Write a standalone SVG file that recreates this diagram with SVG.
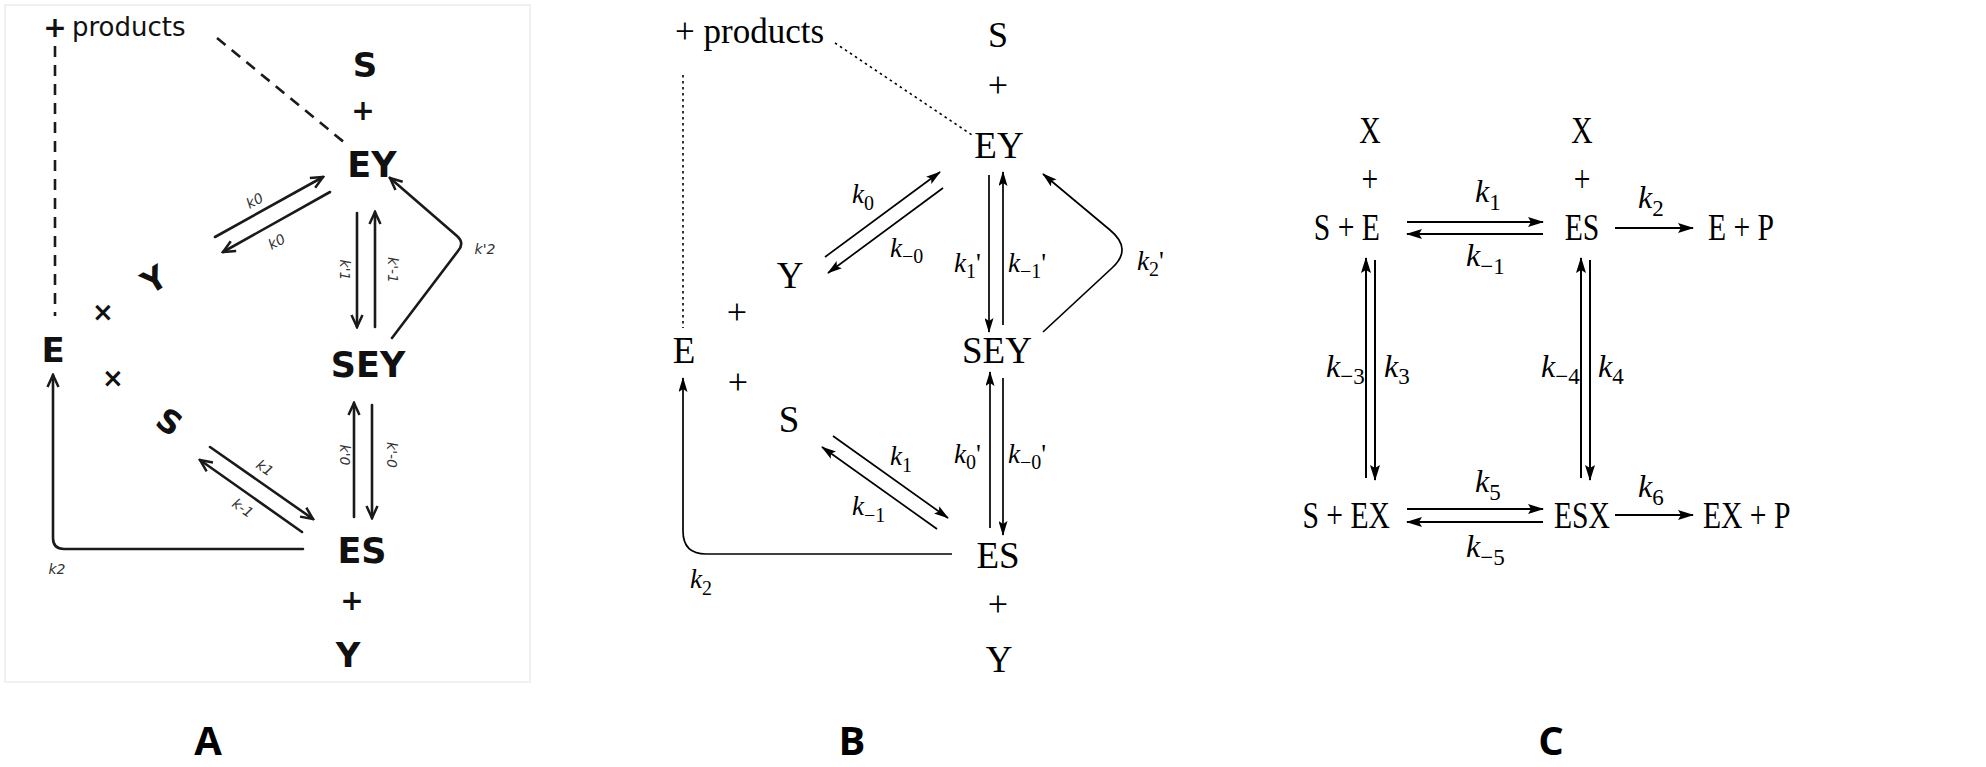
<svg xmlns="http://www.w3.org/2000/svg" width="1986" height="767" viewBox="0 0 1986 767">
<style>
.a{font-family:"DejaVu Sans",sans-serif;font-weight:bold;fill:#111}
.al{font-family:"DejaVu Sans",sans-serif;font-style:italic;font-size:14px;fill:#333}
.s{font-family:"Liberation Serif","Times New Roman",serif;fill:#000}
.i{font-style:italic}
.lA{stroke:#1a1a1a;stroke-width:2.6;fill:none;stroke-linecap:round}
.lB{stroke:#000;stroke-width:1.7;fill:none}
.lC{stroke:#000;stroke-width:2;fill:none}
.dot{stroke:#000;stroke-width:1.6;fill:none;stroke-dasharray:2.5 3.5}
.dash{stroke:#1a1a1a;stroke-width:2.6;fill:none;stroke-dasharray:11 8}
.pl{font-family:"Open Sans","Liberation Sans",sans-serif;font-weight:bold;font-size:40px;fill:#000}
</style>
<defs>
<marker id="ao" viewBox="0 0 16 14" refX="14" refY="7" markerWidth="16" markerHeight="14" markerUnits="userSpaceOnUse" orient="auto"><path d="M2,1.5 L14,7 L2,12.5" fill="none" stroke="#1a1a1a" stroke-width="2.5"/></marker>
<marker id="ab" viewBox="0 0 15 9" refX="14" refY="4.5" markerWidth="15" markerHeight="9" markerUnits="userSpaceOnUse" orient="auto"><path d="M0,0 L15,4.5 L0,9 L3,4.5 z" fill="#000"/></marker>
<marker id="ac" viewBox="0 0 16 10" refX="15" refY="5" markerWidth="16" markerHeight="10" markerUnits="userSpaceOnUse" orient="auto"><path d="M0,0 L16,5 L0,10 L3,5 z" fill="#000"/></marker>
</defs>
<rect width="1986" height="767" fill="#fff"/>

<!-- Panel A -->
<rect x="5" y="5" width="525" height="677" fill="none" stroke="#ececec" stroke-width="1.5"/>
<g id="A-connectors">
<path class="dash" d="M55 46 V316"/>
<path class="dash" d="M217 38 L345 143"/>
<path class="lA" d="M215 237 L323 177" marker-end="url(#ao)"/>
<path class="lA" d="M330 192 L223 252" marker-end="url(#ao)"/>
<path class="lA" d="M357 213 V327" marker-end="url(#ao)"/>
<path class="lA" d="M375 327 V212" marker-end="url(#ao)"/>
<path class="lA" d="M392 338 L458 251 Q465 243 457 236 L390 178" marker-end="url(#ao)"/>
<path class="lA" d="M210 447 L313 519" marker-end="url(#ao)"/>
<path class="lA" d="M302 532 L200 460" marker-end="url(#ao)"/>
<path class="lA" d="M354 517 V403" marker-end="url(#ao)"/>
<path class="lA" d="M372 405 V518" marker-end="url(#ao)"/>
<path class="lA" d="M303 549 H64 Q53 549 53 538 V375" marker-end="url(#ao)"/>
<text class="al" transform="translate(257,205) rotate(-29)" text-anchor="middle">k0</text>
<text class="al" transform="translate(279,246) rotate(-29)" text-anchor="middle">k0</text>
<text class="al" transform="translate(340,270) rotate(90)" text-anchor="middle" font-size="12">k'1</text>
<text class="al" transform="translate(388,270) rotate(90)" text-anchor="middle" font-size="12">k'-1</text>
<text class="al" transform="translate(340,455) rotate(90)" text-anchor="middle" font-size="12">k'0</text>
<text class="al" transform="translate(387,455) rotate(90)" text-anchor="middle" font-size="12">k'-0</text>
<text class="al" transform="translate(262,472) rotate(35)" text-anchor="middle">k1</text>
<text class="al" transform="translate(240,512) rotate(35)" text-anchor="middle">k-1</text>
<text class="al" x="485" y="254" text-anchor="middle" font-size="16">k'2</text>
<text class="al" x="57" y="574" text-anchor="middle">k2</text>
</g>
<g id="A-products"><text class="a" x="55" y="37" font-size="28" text-anchor="middle">+</text><text x="72" y="36" font-family="DejaVu Sans,sans-serif" font-size="26" fill="#111">products</text></g>
<g id="A-S-top"><text class="a" x="365" y="77" font-size="34" text-anchor="middle">S</text><text class="a" x="363" y="120" font-size="28" text-anchor="middle">+</text></g>
<g id="A-EY"><text class="a" x="372" y="177" font-size="35" text-anchor="middle">EY</text></g>
<g id="A-SEY"><text class="a" x="368" y="377" font-size="35" text-anchor="middle">SEY</text></g>
<g id="A-ES"><text class="a" x="362" y="563" font-size="35" text-anchor="middle">ES</text><text class="a" x="352" y="610" font-size="28" text-anchor="middle">+</text><text class="a" x="348" y="667" font-size="34" text-anchor="middle">Y</text></g>
<g id="A-E"><text class="a" x="53" y="362" font-size="34" text-anchor="middle">E</text><text class="a" x="103" y="321" font-size="26" text-anchor="middle">×</text><text class="a" x="113" y="387" font-size="26" text-anchor="middle">×</text></g>
<g id="A-Y"><text class="a" transform="translate(160,289) rotate(-32)" font-size="32" text-anchor="middle">Y</text></g>
<g id="A-S"><text class="a" transform="translate(163,431) rotate(35)" font-size="32" text-anchor="middle">S</text></g>
<text class="pl" x="208" y="755" text-anchor="middle">A</text>

<!-- Panel B -->
<g id="B-connectors">
<path class="dot" d="M835 43 L972 135"/>
<path class="dot" d="M683 75 V328"/>
<path class="lB" d="M825 257 L940 172" marker-end="url(#ab)"/>
<path class="lB" d="M943 188 L828 273" marker-end="url(#ab)"/>
<path class="lB" d="M989 175 V332" marker-end="url(#ab)"/>
<path class="lB" d="M1003 325 V172" marker-end="url(#ab)"/>
<path class="lB" d="M1043 332 L1112 268 Q1133 249 1110 230 L1043 174" marker-end="url(#ab)"/>
<path class="lB" d="M833 436 L948 518" marker-end="url(#ab)"/>
<path class="lB" d="M937 529 L822 447" marker-end="url(#ab)"/>
<path class="lB" d="M990 528 V372" marker-end="url(#ab)"/>
<path class="lB" d="M1003 378 V535" marker-end="url(#ab)"/>
<path class="lB" d="M952 554 H706 Q683 554 683 531 V378" marker-end="url(#ab)"/>
<g class="s" font-size="27">
<text x="852" y="203"><tspan class="i">k</tspan><tspan font-size="20" dy="7">0</tspan></text>
<text x="890" y="257"><tspan class="i">k</tspan><tspan font-size="20" dy="6">−0</tspan></text>
<text x="954" y="272"><tspan class="i">k</tspan><tspan font-size="20" dy="6">1</tspan><tspan dy="-6">'</tspan></text>
<text x="1008" y="272"><tspan class="i">k</tspan><tspan font-size="20" dy="6">−1</tspan><tspan dy="-6">'</tspan></text>
<text x="1137" y="270"><tspan class="i">k</tspan><tspan font-size="20" dy="6">2</tspan><tspan dy="-6">'</tspan></text>
<text x="890" y="465"><tspan class="i">k</tspan><tspan font-size="20" dy="7">1</tspan></text>
<text x="852" y="515"><tspan class="i">k</tspan><tspan font-size="20" dy="7">−1</tspan></text>
<text x="954" y="463"><tspan class="i">k</tspan><tspan font-size="20" dy="6">0</tspan><tspan dy="-6">'</tspan></text>
<text x="1008" y="463"><tspan class="i">k</tspan><tspan font-size="20" dy="6">−0</tspan><tspan dy="-6">'</tspan></text>
<text x="690" y="588"><tspan class="i">k</tspan><tspan font-size="20" dy="7">2</tspan></text>
</g>
</g>
<g id="B-products"><text class="s" x="675" y="43" font-size="35">+ products</text></g>
<g id="B-S-top"><text class="s" x="998" y="47" font-size="36" text-anchor="middle">S</text><text class="s" x="998" y="97" font-size="36" text-anchor="middle">+</text></g>
<g id="B-EY"><text class="s" x="999" y="158" font-size="37" text-anchor="middle">EY</text></g>
<g id="B-Y"><text class="s" x="790" y="288" font-size="37" text-anchor="middle">Y</text></g>
<g id="B-E"><text class="s" x="684" y="363" font-size="37" text-anchor="middle">E</text><text class="s" x="737" y="324" font-size="36" text-anchor="middle">+</text><text class="s" x="738" y="394" font-size="36" text-anchor="middle">+</text></g>
<g id="B-SEY"><text class="s" x="997" y="363" font-size="37" text-anchor="middle">SEY</text></g>
<g id="B-S"><text class="s" x="789" y="432" font-size="37" text-anchor="middle">S</text></g>
<g id="B-ES"><text class="s" x="998" y="568" font-size="37" text-anchor="middle">ES</text><text class="s" x="998" y="616" font-size="36" text-anchor="middle">+</text><text class="s" x="999" y="672" font-size="37" text-anchor="middle">Y</text></g>
<text class="pl" x="852" y="755" text-anchor="middle">B</text>

<!-- Panel C -->
<g id="C-connectors">
<path class="lC" d="M1407 222 H1543" marker-end="url(#ac)"/>
<path class="lC" d="M1543 234 H1407" marker-end="url(#ac)"/>
<path class="lC" d="M1615 228 H1693" marker-end="url(#ac)"/>
<path class="lC" d="M1366 478 V258" marker-end="url(#ac)"/>
<path class="lC" d="M1375 260 V480" marker-end="url(#ac)"/>
<path class="lC" d="M1581 478 V258" marker-end="url(#ac)"/>
<path class="lC" d="M1590 260 V480" marker-end="url(#ac)"/>
<path class="lC" d="M1407 509 H1543" marker-end="url(#ac)"/>
<path class="lC" d="M1543 522 H1407" marker-end="url(#ac)"/>
<path class="lC" d="M1615 515 H1693" marker-end="url(#ac)"/>
<g class="s" font-size="32">
<text x="1475" y="202"><tspan class="i">k</tspan><tspan font-size="23" dy="8">1</tspan></text>
<text x="1466" y="266"><tspan class="i">k</tspan><tspan font-size="23" dy="8">−1</tspan></text>
<text x="1638" y="208"><tspan class="i">k</tspan><tspan font-size="23" dy="8">2</tspan></text>
<text x="1326" y="377"><tspan class="i">k</tspan><tspan font-size="23" dy="7">−3</tspan></text>
<text x="1384" y="377"><tspan class="i">k</tspan><tspan font-size="23" dy="7">3</tspan></text>
<text x="1541" y="377"><tspan class="i">k</tspan><tspan font-size="23" dy="7">−4</tspan></text>
<text x="1598" y="377"><tspan class="i">k</tspan><tspan font-size="23" dy="7">4</tspan></text>
<text x="1475" y="492"><tspan class="i">k</tspan><tspan font-size="23" dy="8">5</tspan></text>
<text x="1466" y="557"><tspan class="i">k</tspan><tspan font-size="23" dy="8">−5</tspan></text>
<text x="1638" y="497"><tspan class="i">k</tspan><tspan font-size="23" dy="8">6</tspan></text>
</g>
</g>
<g transform="matrix(0.78,0,0,1,0,0)" class="s" font-size="38">
<g id="C-SE"><text x="1756.4" y="143" text-anchor="middle">X</text><text x="1756.4" y="192" text-anchor="middle">+</text><text x="1769.2" y="240" text-anchor="end">S + E</text></g>
<g id="C-ES"><text x="2028.2" y="143" text-anchor="middle">X</text><text x="2028.2" y="192" text-anchor="middle">+</text><text x="2028.2" y="240" text-anchor="middle">ES</text></g>
<g id="C-EP"><text x="2189.7" y="240">E + P</text></g>
<g id="C-SEX"><text x="1782" y="528" text-anchor="end">S + EX</text></g>
<g id="C-ESX"><text x="2028.2" y="528" text-anchor="middle">ESX</text></g>
<g id="C-EXP"><text x="2183.3" y="528">EX + P</text></g>
</g>
<text class="pl" x="1551" y="755" text-anchor="middle">C</text>
</svg>
